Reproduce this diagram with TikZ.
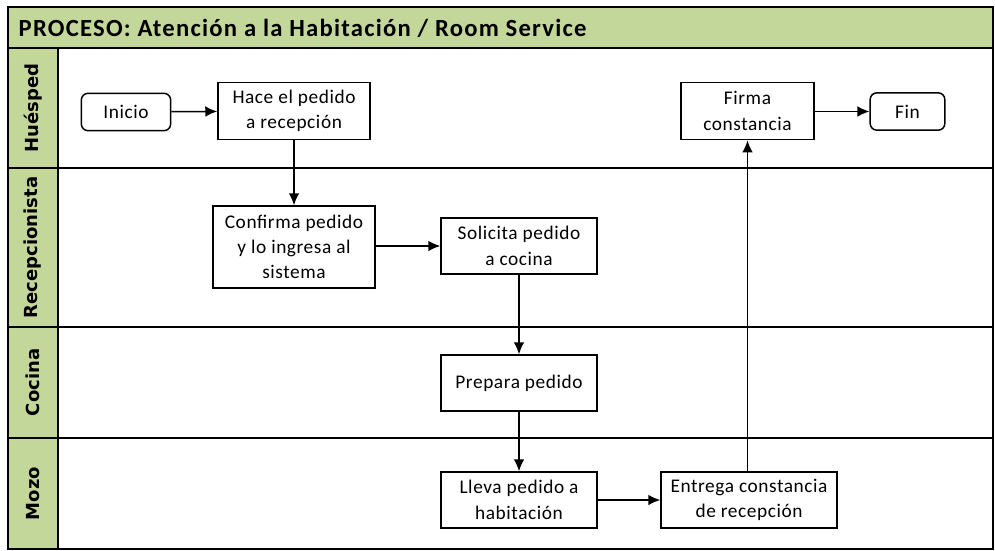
\documentclass[tikz,border=0pt]{standalone}
\usepackage{fontspec}
\setmainfont{Carlito}
\newfontfamily\boxfont[LetterSpace=3]{Carlito}
\newfontfamily\titlefont[LetterSpace=5]{Carlito}
\newfontfamily\lanefont{DejaVu Sans}
\usetikzlibrary{arrows.meta,positioning}
\definecolor{lanegreen}{RGB}{196,215,155}

\begin{document}
\begin{tikzpicture}[x=0.75pt,y=-0.75pt,>={Latex[length=9pt,width=8pt]},
  box/.style={draw,line width=1.1pt,fill=white,align=center,font=\boxfont\fontsize{14.5}{19}\selectfont,inner sep=2pt,minimum width=117pt,minimum height=42pt},
  term/.style={box,rounded corners=5pt,minimum height=28pt},
  lane/.style={rotate=90,font=\lanefont\bfseries\fontsize{13.5}{15}\selectfont},
  arr/.style={->,line width=1.1pt}]
\useasboundingbox (0,0) rectangle (995,550);
% pool frame and lanes
\fill[lanegreen] (8,7) rectangle (993,48);
\fill[lanegreen] (8,48) rectangle (58,549);
\draw[line width=1.1pt] (8,7) rectangle (993,549);
\draw[line width=1.1pt] (8,48) -- (993,48);
\draw[line width=1.1pt] (58,48) -- (58,549);
\draw[line width=1.1pt] (8,168) -- (993,168);
\draw[line width=1.1pt] (8,327) -- (993,327);
\draw[line width=1.1pt] (8,438) -- (993,438);
\node[anchor=west,font=\titlefont\bfseries\fontsize{18.5}{20}\selectfont] (title) at (14,28) {PROCESO: Atención a la Habitación / Room Service};
\node[lane] (huesped) at (33,108) {Huésped};
\node[lane] (recep) at (33,247.5) {Recepcionista};
\node[lane] (cocina) at (33,382.5) {Cocina};
\node[lane] (mozo) at (33,493.5) {Mozo};
% steps
\node[term,minimum width=67pt] (inicio) at (126,112) {Inicio};
\node[box,minimum width=114pt,minimum height=43pt] (hace) at (294,111) {Hace el pedido\\a recepción};
\node[box,minimum width=121.5pt,minimum height=61.5pt] (confirma) at (294,247) {Confirma pedido\\y lo ingresa al\\sistema};
\node[box] (solicita) at (519,246) {Solicita pedido\\a cocina};
\node[box] (prepara) at (519,383) {Prepara pedido};
\node[box] (lleva) at (519,500) {Lleva pedido a\\habitación};
\node[box,minimum width=132pt] (entrega) at (749,500) {Entrega constancia\\de recepción};
\node[box,minimum width=100pt,minimum height=43pt] (firma) at (747.5,111) {Firma\\constancia};
\node[term,minimum width=56pt] (fin) at (907.5,111.5) {Fin};
% flow
\draw[arr] (inicio) -- (hace);
\draw[arr] (hace) -- (confirma);
\draw[arr] (confirma.east |- solicita.west) -- (solicita.west);
\draw[arr] (solicita) -- (prepara);
\draw[arr] (prepara) -- (lleva);
\draw[arr] (lleva) -- (entrega);
\draw[arr] (entrega.north -| firma.south) -- (firma.south);
\draw[arr] (firma.east |- fin.west) -- (fin.west);
\end{tikzpicture}
\end{document}
